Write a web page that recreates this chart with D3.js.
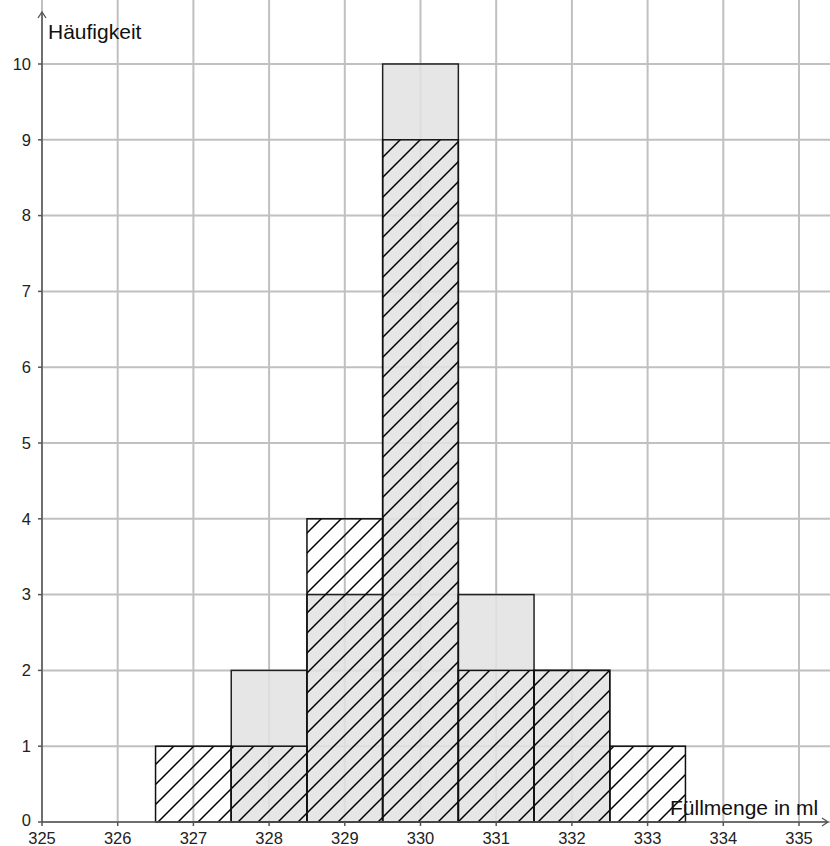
<!DOCTYPE html>
<html><head><meta charset="utf-8">
<script src="https://cdn.jsdelivr.net/npm/d3@7"></script>
<style>body{margin:0;background:#fff}svg{display:block}</style>
</head><body>
<svg id="c" width="830" height="846"></svg>
<script>
const xTicks = [325,326,327,328,329,330,331,332,333,334,335];
const yTicks = [0,1,2,3,4,5,6,7,8,9,10];
const classes = [327,328,329,330,331,332,333];
const grayValues = [0,2,3,10,3,2,0];
const hatchValues = [1,1,4,9,2,2,1];
const xLabel = "Füllmenge in ml";
const yLabel = "Häufigkeit";

const svg = d3.select("#c");
const x = d3.scaleLinear().domain([325,335]).range([42,799]);
const y = d3.scaleLinear().domain([0,10]).range([822,64]);

const defs = svg.append("defs");
const pat = defs.append("pattern").attr("id","hatch").attr("patternUnits","userSpaceOnUse")
  .attr("width",20).attr("height",20);
pat.append("path").attr("d","M-5,5 L5,-5 M0,20 L20,0 M15,25 L25,15")
  .attr("stroke","#000").attr("stroke-width",1.5);

// grid
const g = svg.append("g");
g.selectAll(".vg").data(xTicks.concat([336])).join("line")
  .attr("x1",d=>x(d)).attr("x2",d=>x(d)).attr("y1",0).attr("y2",y(0))
  .attr("stroke","#c0c0c0").attr("stroke-width",2);
g.selectAll(".hg").data(yTicks.concat([11])).join("line")
  .attr("x1",x(325)).attr("x2",830).attr("y1",d=>y(d)).attr("y2",d=>y(d))
  .attr("stroke","#c0c0c0").attr("stroke-width",2);

// gray bars
const bw = x(1)-x(0);
svg.append("g").selectAll("rect").data(classes.map((c,i)=>({c,v:grayValues[i]})).filter(d=>d.v>0)).join("rect")
  .attr("x",d=>x(d.c-0.5)).attr("width",bw)
  .attr("y",d=>y(d.v)).attr("height",d=>y(0)-y(d.v))
  .attr("fill","#e2e2e2").attr("fill-opacity",0.85).attr("stroke","#222").attr("stroke-width",1.5);

// hatched bars
svg.append("g").selectAll("rect").data(classes.map((c,i)=>({c,v:hatchValues[i]}))).join("rect")
  .attr("x",d=>x(d.c-0.5)).attr("width",bw)
  .attr("y",d=>y(d.v)).attr("height",d=>y(0)-y(d.v))
  .attr("fill","url(#hatch)").attr("stroke","#111").attr("stroke-width",1.5);

// axes
const ax = svg.append("g");
ax.append("line").attr("x1",x(325)).attr("x2",828).attr("y1",y(0)).attr("y2",y(0))
  .attr("stroke","#555").attr("stroke-width",1.5);
ax.append("line").attr("x1",x(325)).attr("x2",x(325)).attr("y1",y(0)).attr("y2",12)
  .attr("stroke","#555").attr("stroke-width",1.5);
ax.append("path").attr("d",`M${x(325)-4},18 L${x(325)},12 L${x(325)+4},18`).attr("fill","none").attr("stroke","#555").attr("stroke-width",1.3);
ax.append("path").attr("d",`M822,${y(0)-4} L828,${y(0)} L822,${y(0)+4}`).attr("fill","none").attr("stroke","#555").attr("stroke-width",1.3);

ax.selectAll(".yt").data(yTicks).join("line")
  .attr("x1",x(325)-4).attr("x2",x(325)).attr("y1",d=>y(d)).attr("y2",d=>y(d))
  .attr("stroke","#555").attr("stroke-width",1.5);
ax.selectAll(".xt").data(xTicks).join("line")
  .attr("x1",d=>x(d)).attr("x2",d=>x(d)).attr("y1",y(0)).attr("y2",y(0)+4)
  .attr("stroke","#555").attr("stroke-width",1.5);

const font = "'Liberation Sans', Arial, sans-serif";
ax.selectAll(".yl").data(yTicks).join("text")
  .attr("x",x(325)-11).attr("y",d=>y(d)-(d===0?2:0)).attr("dy","0.35em")
  .attr("text-anchor","end").attr("font-family",font).attr("font-size",16.5).attr("fill","#222")
  .text(d=>d);
ax.selectAll(".xl").data(xTicks).join("text")
  .attr("x",d=>x(d)).attr("y",844)
  .attr("text-anchor","middle").attr("font-family",font).attr("font-size",16.5).attr("fill","#222")
  .text(d=>d);

svg.append("text").attr("x",48).attr("y",39).attr("font-family",font).attr("font-size",21).attr("fill","#111").text(yLabel);
svg.append("text").attr("x",670).attr("y",815).attr("font-family",font).attr("font-size",21).attr("fill","#111").text(xLabel);
</script>
</body></html>
